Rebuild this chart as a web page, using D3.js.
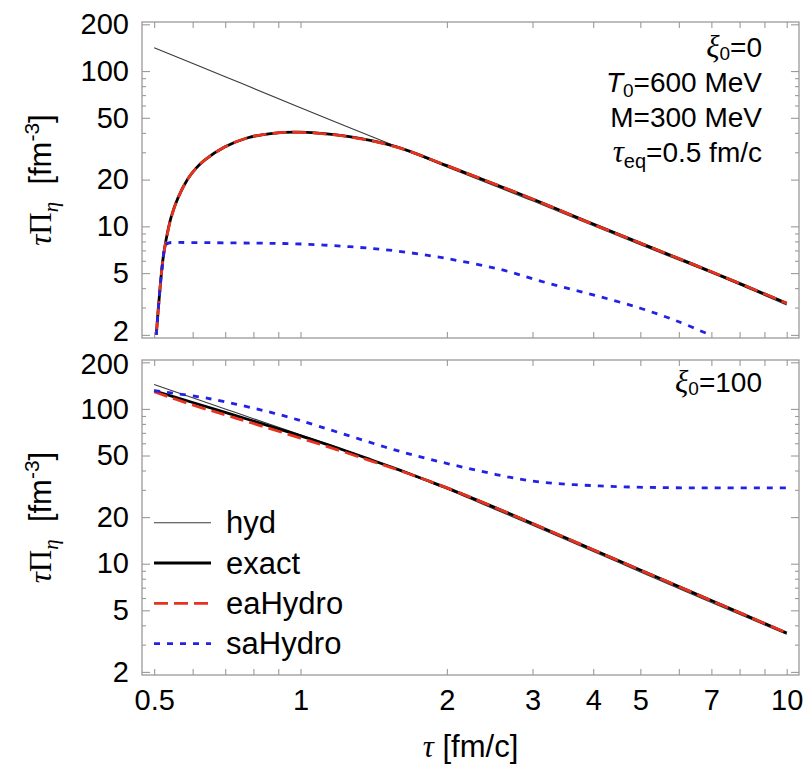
<!DOCTYPE html>
<html><head><meta charset="utf-8">
<script src="https://cdn.jsdelivr.net/npm/d3@7"></script>
<style>
body{margin:0;background:#fff}
svg text{font-family:"Liberation Sans",Arial,Helvetica,sans-serif;fill:#000;white-space:pre}
.g{font-family:"Liberation Serif","Times New Roman",serif}
</style>
</head><body><svg id="c" width="808" height="766"></svg>
<script>
// ---------- axis ticks ----------
const xTickValues = [0.5,0.6,0.7,0.8,0.9,1,2,3,4,5,6,7,8,9,10];
const xTickLabels = [0.5,1,2,3,4,5,7,10];
const yMajorTicks = [2,5,10,20,50,100,200];
const yMinorTicks = [3,4,6,7,8,9,30,40,60,70,80,90];

// ---------- top panel (xi0 = 0) ----------
const hydTopTau   = [0.5,0.7,1,1.57,2,3,5,7,10];
const hydTopVal   = [141.5,92,58.1,32.8,24.1,14.6,7.6,5.0,3.12];
const exactTopTau = [0.505,0.513,0.521,0.529,0.542,0.56,0.587,0.61,0.635,0.698,0.779,0.868,1.0,1.26,1.57,2,3,4,5,7,10];
const exactTopVal = [2,3.7,6.07,8.2,11.5,15.3,20.3,23.7,26.7,32.4,37.2,39.6,40.4,37.8,32.6,24.6,15.0,10.35,7.8,5.1,3.2];
const eaTopTau    = [0.505,0.513,0.521,0.529,0.542,0.56,0.587,0.61,0.635,0.698,0.779,0.868,1.0,1.26,1.57,2,3,4,5,7,10];
const eaTopVal    = [2,3.7,6.0,8.1,11.4,15.3,20.3,23.7,26.7,32.4,37.2,39.6,40.3,37.7,32.5,24.6,15.0,10.3,7.8,5.1,3.2];
const saTopTau    = [0.505,0.513,0.521,0.527,0.535,0.6,0.8,1.0,1.26,1.57,1.99,2.57,3.2,4.0,5.0,6.0,6.95];
const saTopVal    = [2,3.7,6.0,7.5,7.8,7.85,7.8,7.7,7.4,6.95,6.22,5.29,4.34,3.62,2.97,2.43,2.0];

// ---------- bottom panel (xi0 = 100) ----------
const hydBotTau   = [0.5,0.6,0.7,0.8,1.0,1.2,1.4,1.6,1.8,2,2.5,3,4,5,7,10];
const hydBotVal   = [144,118,100,86.5,68,55.8,46.8,40,34.6,30.4,22.6,17.7,12.0,8.85,5.62,3.5];
const exactBotTau = [0.5,0.6,0.7,0.8,1.0,1.2,1.4,1.6,1.8,2,2.5,3,4,5,7,10];
const exactBotVal = [131,110,95,83.5,67,55.5,46.8,40.2,35,30.9,23.2,18.2,12.3,9.1,5.78,3.57];
const eaBotTau    = [0.5,0.6,0.7,0.8,1.0,1.2,1.4,1.6,1.8,2,2.5,3,4,5,7,10];
const eaBotVal    = [129,106,91.5,80.5,64.8,54,46,40,35,30.9,23.2,18.2,12.3,9.1,5.78,3.57];
const saBotTau    = [0.5,0.645,0.884,1.0,1.212,1.611,2.19,3.0,4.12,5.66,7.5,10];
const saBotVal    = [131,117,93.7,84,69.6,52.9,41.6,34.2,31.8,31.0,30.9,30.9];

const legendNames = ["hyd","exact","eaHydro","saHydro"];

// ---------- layout ----------
const L = 142, R = 799;
const panels = [
  {top:22, bottom:338, labels:false,
   series:[[hydTopTau,hydTopVal],[exactTopTau,exactTopVal],[eaTopTau,eaTopVal],[saTopTau,saTopVal]]},
  {top:360, bottom:675, labels:true,
   series:[[hydBotTau,hydBotVal],[exactBotTau,exactBotVal],[eaBotTau,eaBotVal],[saBotTau,saBotVal]]}
];
const styles = [
  {stroke:"#3a3a3a", width:1.1, dash:null},
  {stroke:"#000", width:2.8, dash:null},
  {stroke:"#e8321e", width:2.8, dash:"14,6"},
  {stroke:"#2222e6", width:2.8, dash:"6,7"}
];

const svg = d3.select("#c");
const x = d3.scaleLog().domain([0.472,10.6]).range([L,R]);
const frameCol = "#9a9a9a";
const fmt = d => String(d);

panels.forEach((p,pi) => {
  const y = d3.scaleLog().domain([1.91,207]).range([p.bottom,p.top]);
  const g = svg.append("g");
  const cid = "clip"+pi;
  svg.append("clipPath").attr("id",cid).append("rect")
    .attr("x",L).attr("y",p.top).attr("width",R-L).attr("height",p.bottom-p.top);

  const line = d3.line().x(d=>x(d[0])).y(d=>y(d[1])).curve(d3.curveCatmullRom.alpha(0.5));
  const lg = g.append("g").attr("clip-path",`url(#${cid})`);
  p.series.forEach((s,si) => {
    const pts = s[0].map((t,i)=>[t,s[1][i]]);
    const st = styles[si];
    lg.append("path").datum(pts).attr("d",line)
      .attr("fill","none").attr("stroke",st.stroke).attr("stroke-width",st.width)
      .attr("stroke-dasharray",st.dash).attr("stroke-linejoin","round");
  });

  g.append("rect").attr("x",L).attr("y",p.top).attr("width",R-L).attr("height",p.bottom-p.top)
    .attr("fill","none").attr("stroke",frameCol).attr("stroke-width",1.3);

  const xb = g.append("g").attr("transform",`translate(0,${p.bottom})`)
    .call(d3.axisBottom(x).tickValues(xTickValues).tickSize(-6).tickPadding(14)
      .tickFormat(d => (p.labels && xTickLabels.includes(d)) ? fmt(d) : ""));
  const xt = g.append("g").attr("transform",`translate(0,${p.top})`)
    .call(d3.axisTop(x).tickValues(xTickValues).tickSize(-6).tickFormat(""));
  const yl = g.append("g").attr("transform",`translate(${L},0)`)
    .call(d3.axisLeft(y).tickValues(yMajorTicks).tickSize(-8).tickPadding(13).tickFormat(fmt));
  const ylm = g.append("g").attr("transform",`translate(${L},0)`)
    .call(d3.axisLeft(y).tickValues(yMinorTicks).tickSize(-4).tickFormat(""));
  const yr = g.append("g").attr("transform",`translate(${R},0)`)
    .call(d3.axisRight(y).tickValues(yMajorTicks).tickSize(-8).tickFormat(""));
  const yrm = g.append("g").attr("transform",`translate(${R},0)`)
    .call(d3.axisRight(y).tickValues(yMinorTicks).tickSize(-4).tickFormat(""));
  [xb,xt,yl,ylm,yr,yrm].forEach(a => {
    a.select(".domain").remove();
    a.selectAll(".tick line").attr("stroke",frameCol).attr("stroke-width",1.1);
    a.selectAll(".tick text").attr("font-size",29).attr("fill","#000")
      .attr("font-family",'"Liberation Sans",Arial,sans-serif');
  });
  if (pi === 0) yl.selectAll(".tick text").filter(d => d === 2).attr("y",-4);
  if (pi === 1) yl.selectAll(".tick text").filter(d => d === 200).attr("y",2);

  const cy = (p.top+p.bottom)/2;
  const yt = svg.append("text").attr("transform",`translate(51,${cy}) rotate(-90)`)
    .attr("text-anchor","middle").attr("font-size",31);
  yt.append("tspan").attr("class","g").attr("font-style","italic").text("τ");
  yt.append("tspan").attr("class","g").text("Π");
  yt.append("tspan").attr("class","g").attr("font-style","italic").attr("font-size",21).attr("dy",7).text("η");
  yt.append("tspan").attr("dy",-7).text("  [fm");
  yt.append("tspan").attr("font-size",21).attr("dy",-12).text("-3");
  yt.append("tspan").attr("dy",12).text("]");
});

const annX = 762;
function xiLabel(yb, val){
  const t = svg.append("text").attr("x",annX).attr("y",yb).attr("text-anchor","end").attr("font-size",28);
  t.append("tspan").attr("class","g").attr("font-style","italic").attr("font-size",31).text("ξ");
  t.append("tspan").attr("font-size",19).attr("dy",3).text("0");
  t.append("tspan").attr("dy",-3).text("="+val);
}
xiLabel(56.7,"0");
{
  const t = svg.append("text").attr("x",annX).attr("y",91.7).attr("text-anchor","end").attr("font-size",28);
  t.append("tspan").attr("font-style","italic").text("T");
  t.append("tspan").attr("font-size",19).attr("dy",5).text("0");
  t.append("tspan").attr("dy",-5).text("=600 MeV");
}
svg.append("text").attr("x",annX).attr("y",127.3).attr("text-anchor","end").attr("font-size",28).text("M=300 MeV");
{
  const t = svg.append("text").attr("x",annX).attr("y",161.7).attr("text-anchor","end").attr("font-size",28);
  t.append("tspan").attr("class","g").attr("font-style","italic").attr("font-size",31).text("τ");
  t.append("tspan").attr("font-size",20).attr("dy",6).text("eq");
  t.append("tspan").attr("dy",-6).text("=0.5 fm/c");
}
xiLabel(391.7,"100");

const legY0 = 522.7, legDY = 40.3;
legendNames.forEach((n,i) => {
  const st = styles[i];
  const yy = legY0 + i*legDY;
  svg.append("line").attr("x1",154).attr("x2",211).attr("y1",yy).attr("y2",yy)
    .attr("stroke",st.stroke).attr("stroke-width",st.width).attr("stroke-dasharray",st.dash);
  svg.append("text").attr("x",226).attr("y",yy+10.5).attr("font-size",31).text(n);
});

{
  const t = svg.append("text").attr("x",(L+R)/2).attr("y",757).attr("text-anchor","middle").attr("font-size",31);
  t.append("tspan").attr("class","g").attr("font-style","italic").text("τ");
  t.append("tspan").text(" [fm/c]");
}
</script>
</body></html>
